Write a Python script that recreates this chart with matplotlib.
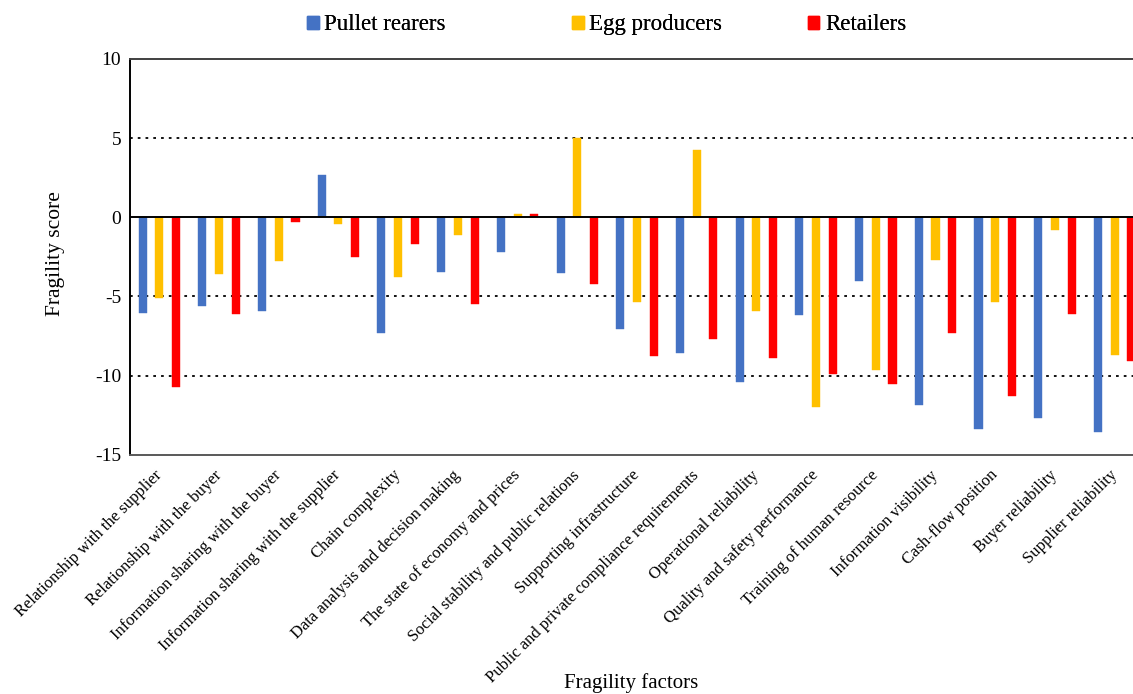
import matplotlib
matplotlib.use("Agg")
import matplotlib.pyplot as plt
import matplotlib.patches as mpatches
import numpy as np

plt.rcParams['font.family'] = ['Liberation Serif', 'DejaVu Serif']

factors = [
    "Relationship with the supplier",
    "Relationship with the buyer",
    "Information sharing with the buyer",
    "Information sharing with the supplier",
    "Chain complexity",
    "Data analysis and decision making",
    "The state of economy and prices",
    "Social stability and public relations",
    "Supporting infrastructure",
    "Public and private compliance requirements",
    "Operational reliability",
    "Quality and safety performance",
    "Training of human resource",
    "Information visibility",
    "Cash-flow position",
    "Buyer reliability",
    "Supplier reliability",
]

pullet = [-6.04, -5.58, -5.89, 2.64, -7.3, -3.46, -2.2, -3.54, -7.06,
          -8.57, -10.4, -6.2, -4.04, -11.84, -13.38, -12.66, -13.55]
egg = [-5.13, -3.56, -2.75, -0.42, -3.75, -1.13, 0.2, 5.0, -5.35,
       4.25, -5.89, -12.0, -9.64, -2.67, -5.33, -0.82, -8.7]
retail = [-10.7, -6.08, -0.27, -2.5, -1.68, -5.47, 0.2, -4.21, -8.76,
          -7.72, -8.91, -9.92, -10.52, -7.32, -11.3, -6.12, -9.05]

series = [("Pullet rearers", pullet, "#4472C4"),
          ("Egg producers", egg, "#FFC000"),
          ("Retailers", retail, "#FF0000")]

fig = plt.figure(figsize=(11.33, 6.94), dpi=100)
# plot area runs past the right edge of the picture, like the source
ax = fig.add_axes([0.1143, 0.3448, 0.8958, 0.5702])

x = np.arange(len(factors))
offset = 0.28
width = 0.135
for i, (name, vals, col) in enumerate(series):
    ax.bar(x + (i - 1) * offset, vals, width, color=col, edgecolor=col,
           linewidth=0.3, label=name, zorder=3)

ax.set_xlim(-0.5, len(factors) - 0.5)
ax.set_ylim(-15, 10)
ax.set_yticks([-15, -10, -5, 0, 5, 10])
ax.set_yticklabels(["-15", "-10", "-5", "0", "5", "10"])

for yv in [5, -5, -10]:
    ax.axhline(yv, color="black", linewidth=1.3, linestyle=(0, (1.5, 2.8)), zorder=1)
ax.axhline(0, color="black", linewidth=1.4, zorder=4)

ax.spines['left'].set_color("black")
ax.spines['left'].set_linewidth(1.4)
ax.spines['top'].set_color("#404040")
ax.spines['top'].set_linewidth(1.4)
ax.spines['bottom'].set_color("#595959")
ax.spines['bottom'].set_linewidth(1.4)
ax.spines['right'].set_visible(False)

ax.tick_params(axis='y', length=0, pad=6, labelsize=14)
ax.tick_params(axis='x', length=0, pad=13)
ax.set_xticks(x)
ax.set_xticklabels(factors, rotation=45, ha='right', va='center',
                   rotation_mode='anchor', fontsize=12)

fig.text(0.049, 0.634, "Fragility score", rotation=90, ha='center',
         va='center', fontsize=15.5)
fig.text(0.557, 0.016, "Fragility factors", ha='center', va='center',
         fontsize=15)

# legend entries sit in evenly spread slots across the top
legend_x = [0.271, 0.505, 0.713]
for (name, _, col), lx in zip(series, legend_x):
    leg = fig.legend(handles=[mpatches.Patch(color=col, label=name)],
                     loc='center left', bbox_to_anchor=(lx, 0.964),
                     frameon=False, fontsize=16.5, handlelength=0.5,
                     handleheight=0.5, handletextpad=0.25, borderpad=0,
                     borderaxespad=0)
    fig.add_artist(leg)

fig.savefig("out.png", dpi=100)
